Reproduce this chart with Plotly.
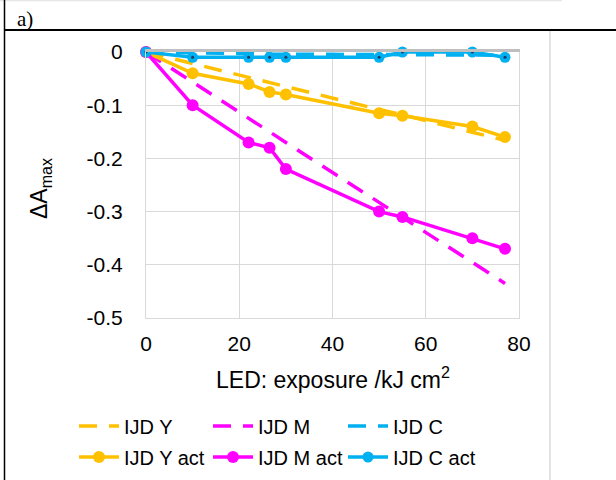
import plotly.graph_objects as go

# ---- data ----
exposure = [0, 10, 22, 26.5, 30, 50, 55, 70, 77]
ijd_y = [0, -0.022, -0.047, -0.057, -0.065, -0.108, -0.118, -0.151, -0.166]
ijd_m = [0, -0.056, -0.124, -0.150, -0.170, -0.282, -0.311, -0.395, -0.435]
ijd_c = [0, -0.002, -0.003, -0.004, -0.004, -0.005, -0.005, -0.006, -0.006]
ijd_y_act = [0, -0.04, -0.06, -0.075, -0.08, -0.115, -0.12, -0.14, -0.16]
ijd_m_act = [0, -0.10, -0.17, -0.18, -0.22, -0.30, -0.31, -0.35, -0.37]
ijd_c_act = [0, -0.01, -0.01, -0.01, -0.01, -0.01, 0, 0, -0.01]
x_ticks = [0, 20, 40, 60, 80]
y_ticks = [0, -0.1, -0.2, -0.3, -0.4, -0.5]
y_tick_text = ["0", "-0.1", "-0.2", "-0.3", "-0.4", "-0.5"]

YEL = "#FFC000"
MAG = "#FF00FF"
CYA = "#00B0F0"
DOT = "#1F3864"
FONT = "Liberation Sans, Arial, sans-serif"

# ---- layout geometry ----
Wf, Hf = 616, 480
L, R, T, B = 146, 97, 52, 162
W = Wf - L - R
H = Hf - T - B


def px(x):
    return (x - L) / W


def py(y):
    return (Hf - B - y) / H


dash = "18px,12px"
fig = go.Figure()
legend_ids = ["legend", "legend2", "legend3", "legend4", "legend5", "legend6"]
for i, (name, vals, col) in enumerate([("IJD Y", ijd_y, YEL), ("IJD M", ijd_m, MAG),
                                        ("IJD C", ijd_c, CYA)]):
    fig.add_trace(go.Scatter(x=exposure, y=vals, name=name, mode="lines",
                             line=dict(color=col, width=3.5, dash=dash),
                             legend=legend_ids[i], cliponaxis=False))
for i, (name, vals, col) in enumerate([("IJD Y act", ijd_y_act, YEL),
                                        ("IJD M act", ijd_m_act, MAG)]):
    fig.add_trace(go.Scatter(x=exposure, y=vals, name=name, mode="lines+markers",
                             line=dict(color=col, width=3.5),
                             marker=dict(color=col, size=12, symbol="circle"),
                             legend=legend_ids[3 + i], cliponaxis=False))
fig.add_trace(go.Scatter(x=exposure, y=ijd_c_act, name="IJD C act", mode="lines+markers",
                         line=dict(color=CYA, width=3.5),
                         marker=dict(color=CYA, size=11, symbol="circle"),
                         legend="legend6", cliponaxis=False))
fig.add_trace(go.Scatter(x=exposure, y=ijd_c_act, mode="markers", showlegend=False,
                         marker=dict(color=DOT, size=3, symbol="circle"),
                         hoverinfo="skip", cliponaxis=False))

axis_common = dict(showgrid=True, gridcolor="#D9D9D9", gridwidth=1, zeroline=False,
                   ticks="", tickfont=dict(family=FONT, size=21, color="#000000"),
                   showline=True, linecolor="#D9D9D9", linewidth=1, mirror=True)

layout = dict(
    width=Wf, height=Hf,
    margin=dict(l=L, r=R, t=T, b=B, pad=0),
    paper_bgcolor="white", plot_bgcolor="white",
    xaxis=dict(range=[0, 80], tickvals=x_ticks, ticklabelstandoff=7, **axis_common),
    yaxis=dict(range=[-0.5, 0], tickvals=y_ticks, ticktext=y_tick_text,
               ticklabelstandoff=18, **axis_common),
    xaxis2=dict(overlaying="x", side="top", range=[0, 80], matches="x",
                showline=True, linecolor="#BFBFBF", linewidth=3,
                showgrid=False, zeroline=False, showticklabels=False, ticks=""),
    showlegend=True,
)
col_x = [74, 208, 343]
row_y = [426, 457]
for k, lid in enumerate(legend_ids):
    layout[lid] = dict(orientation="h", xref="container", yref="container",
                       x=col_x[k % 3] / Wf, y=1 - row_y[k // 3] / Hf,
                       xanchor="left", yanchor="middle",
                       font=dict(family=FONT, size=20, color="#000000"),
                       bgcolor="rgba(0,0,0,0)", itemwidth=40)
fig.update_layout(**layout)
# dummy trace to activate xaxis2 top line
fig.add_trace(go.Scatter(x=[None], y=[None], xaxis="x2", showlegend=False, hoverinfo="skip"))

annotations = [
    dict(text="LED: exposure /kJ cm<sup>2</sup>", x=0.5, y=py(378), xref="paper", yref="paper",
         showarrow=False, xanchor="center", yanchor="middle",
         font=dict(family=FONT, size=23, color="#000000")),
    dict(text="ΔA<sub>max</sub>", x=px(40), y=py(188), xref="paper", yref="paper",
         showarrow=False, xanchor="center", yanchor="middle", textangle=-90,
         font=dict(family=FONT, size=23, color="#000000")),
    dict(text="a)", x=px(15), y=py(19), xref="paper", yref="paper",
         showarrow=False, xanchor="left", yanchor="middle",
         font=dict(family="Liberation Serif, Times New Roman, serif", size=21, color="#000000")),
]
fig.update_layout(annotations=annotations)

shapes = [
    dict(type="line", xref="paper", yref="paper", x0=px(0), x1=px(562), y0=py(0.5), y1=py(0.5),
         line=dict(color="#E6E6E6", width=1.5)),
    dict(type="line", xref="paper", yref="paper", x0=px(550), x1=px(550), y0=py(30), y1=py(480),
         line=dict(color="#D9D9D9", width=1.5)),
    dict(type="line", xref="paper", yref="paper", x0=px(4), x1=px(616), y0=py(30), y1=py(30),
         line=dict(color="#000000", width=2)),
    dict(type="line", xref="paper", yref="paper", x0=px(4.5), x1=px(4.5), y0=py(0), y1=py(480),
         line=dict(color="#000000", width=1.5)),
]
fig.update_layout(shapes=shapes)

fig.write_html("out.html")
